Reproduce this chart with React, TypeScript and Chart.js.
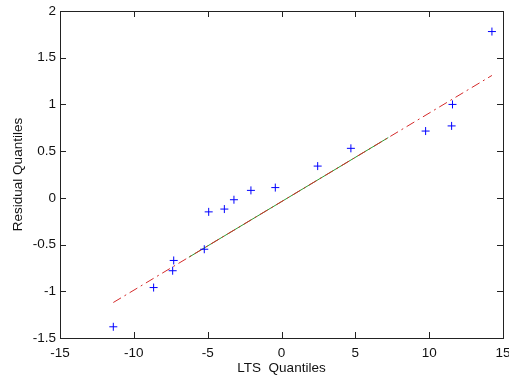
import React, { useEffect, useRef } from "react";
import { Chart, registerables } from "chart.js";

Chart.register(...registerables);

const ltsQuantiles = [-11.39, -8.66, -7.37, -7.3, -5.23, -4.93, -3.87, -3.22, -2.07, -0.42, 2.45, 4.7, 9.76, 11.52, 11.58, 14.25];
const residualQuantiles = [-1.38, -0.96, -0.78, -0.67, -0.55, -0.15, -0.12, -0.02, 0.08, 0.11, 0.34, 0.53, 0.715, 0.77, 1.0, 1.78];

const fitX = [-6.27, 7.23];
const fitY = [-0.635, 0.645];
const extX = [-11.39, 14.25];
const extY = [-1.12, 1.31];

const xTicks = [-15, -10, -5, 0, 5, 10, 15];
const yTicks = [-1.5, -1, -0.5, 0, 0.5, 1, 1.5, 2];

const FONT = { family: "Arial, 'Liberation Sans', sans-serif", size: 13.5 };

const innerTicks = {
  id: "innerTicks",
  afterDraw(chart: any) {
    const { ctx, chartArea } = chart;
    const { left, right, top, bottom } = chartArea;
    const xs = chart.scales.x;
    const ys = chart.scales.y;
    const len = 6;
    ctx.save();
    ctx.strokeStyle = "#222";
    ctx.lineWidth = 1;
    ctx.beginPath();
    xTicks.forEach((v) => {
      const px = Math.round(xs.getPixelForValue(v)) + 0.5;
      ctx.moveTo(px, bottom);
      ctx.lineTo(px, bottom - len);
      ctx.moveTo(px, top);
      ctx.lineTo(px, top + len);
    });
    yTicks.forEach((v) => {
      const py = Math.round(ys.getPixelForValue(v)) + 0.5;
      ctx.moveTo(left, py);
      ctx.lineTo(left + len, py);
      ctx.moveTo(right, py);
      ctx.lineTo(right - len, py);
    });
    ctx.stroke();
    ctx.strokeRect(Math.round(left) + 0.5, Math.round(top) + 0.5, Math.round(right - left), Math.round(bottom - top));
    ctx.restore();
  },
};

export default function App() {
  const ref = useRef<HTMLCanvasElement>(null);
  useEffect(() => {
    if (!ref.current) return;
    const chart = new Chart(ref.current, {
      type: "scatter",
      data: {
        datasets: [
          {
            label: "data",
            data: ltsQuantiles.map((x, i) => ({ x, y: residualQuantiles[i] })),
            showLine: false,
            pointStyle: "cross",
            pointRadius: 4,
            pointBorderWidth: 1,
            borderColor: "#0000ff",
            backgroundColor: "#0000ff",
            order: 0,
          },
          {
            label: "ext",
            data: extX.map((x, i) => ({ x, y: extY[i] })),
            showLine: true,
            pointRadius: 0,
            borderColor: "#d42a2a",
            borderWidth: 1,
            borderDash: [9, 4, 2, 4],
            order: 1,
          },
          {
            label: "fit",
            data: fitX.map((x, i) => ({ x, y: fitY[i] })),
            showLine: true,
            pointRadius: 0,
            borderColor: "#2e9a2e",
            borderWidth: 1,
            order: 2,
          },
        ],
      },
      options: {
        responsive: false,
        animation: false,
        layout: { padding: { top: 11, right: 6, left: 0, bottom: 0 } },
        plugins: { legend: { display: false }, tooltip: { enabled: false } },
        scales: {
          x: {
            type: "linear",
            min: -15,
            max: 15,
            afterBuildTicks: (s: any) => {
              s.ticks = xTicks.map((v) => ({ value: v }));
            },
            afterFit: (s: any) => {
              s.height = 43;
              s.paddingLeft = 0;
              s.paddingRight = 0;
            },
            grid: { display: false, drawTicks: false },
            border: { display: false },
            ticks: {
              color: "#111",
              font: FONT,
              padding: 7,
              maxRotation: 0,
              autoSkip: false,
              callback: (v: any) => String(v),
            },
            title: {
              display: true,
              text: "LTS  Quantiles",
              color: "#111",
              font: FONT,
              padding: { top: 0, bottom: 5 },
            },
          },
          y: {
            type: "linear",
            min: -1.5,
            max: 2,
            afterBuildTicks: (s: any) => {
              s.ticks = yTicks.map((v) => ({ value: v }));
            },
            afterFit: (s: any) => {
              s.width = 60;
              s.paddingTop = 0;
              s.paddingBottom = 0;
            },
            grid: { display: false, drawTicks: false },
            border: { display: false },
            ticks: {
              color: "#111",
              font: FONT,
              padding: 4,
              autoSkip: false,
              callback: (v: any) => String(v),
            },
            title: {
              display: true,
              text: "Residual Quantiles",
              color: "#111",
              font: FONT,
              padding: { top: 10, bottom: 0 },
            },
          },
        },
      },
      plugins: [innerTicks],
    });
    return () => chart.destroy();
  }, []);
  return (
    <div style={{ position: "absolute", left: 0, top: 0, width: 509, height: 381, background: "#fff" }}>
      <canvas ref={ref} width={509} height={381} />
    </div>
  );
}
